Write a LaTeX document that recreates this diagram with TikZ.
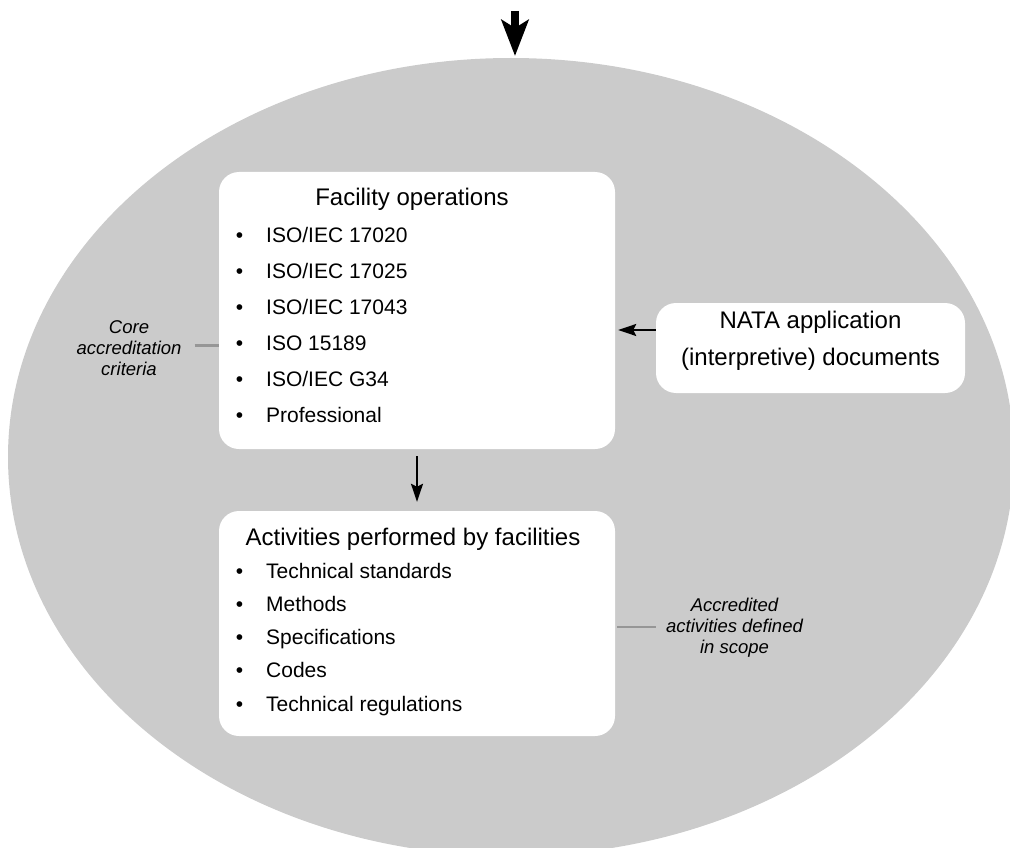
\documentclass[tikz,border=0pt]{standalone}
\usepackage{fontspec}
\setmainfont{Liberation Sans}
\usetikzlibrary{arrows.meta,positioning}

\definecolor{ovalgray}{RGB}{203,203,203}
\definecolor{leadgray}{RGB}{150,150,150}
\newcommand{\bul}{\llap{\textbullet\hspace{23pt}}}

\tikzset{
  box/.style={fill=white, rounded corners=20pt, inner sep=0pt},
  head/.style={font=\fontsize{24}{37}\selectfont, inner sep=0pt},
  item/.style={font=\fontsize{21}{25}\selectfont, anchor=base west, inner sep=0pt},
  note/.style={font=\fontsize{18.5}{21}\selectfont\itshape, align=center, inner sep=0pt},
  flow/.style={-{Stealth[length=18pt,width=12pt,inset=3pt]}, line width=2pt},
  bigflow/.style={-{Stealth[length=36pt,width=27pt,inset=8pt]}, line width=8pt},
  lead/.style={draw=leadgray, line width=2.5pt}
}

\begin{document}
\begin{tikzpicture}[x=1pt,y=-1pt]
    \useasboundingbox (0,0) rectangle (1010,848);
    \fill[ovalgray] (511,457) ellipse [x radius=503, y radius=399];

    % boxes
    \node[box, minimum width=396pt, minimum height=277pt] (ops) at (417,310.5) {};
    \node[box, minimum width=396pt, minimum height=225pt] (acts) at (417,623.5) {};
    \node[box, minimum width=309pt, minimum height=90pt] (nata) at (810.5,348) {};

    % texts
    \node[head, anchor=base] (opstitle) at (412,206) {Facility operations};
    \foreach \t [count=\i] in {ISO/IEC 17020,ISO/IEC 17025,ISO/IEC 17043,ISO 15189,ISO/IEC G34,Professional}
        \node[item] (ops\i) at (266,{206+36*\i}) {\bul\t};
    \node[head, anchor=base] (actstitle) at (413,545) {Activities performed by facilities};
    \foreach \t [count=\i] in {Technical standards,Methods,Specifications,Codes,Technical regulations}
        \node[item] (acts\i) at (266,{544.75+33.25*\i}) {\bul\t};
    \node[head, align=center] (natatext) at ([yshift=7]nata.center) {NATA application\\(interpretive) documents};

    \node[note, anchor=base] (core) at (129,375) {Core\\accreditation\\criteria};
    \node[note, anchor=base] (scope) at (734.5,653) {Accredited\\activities defined\\in scope};

    % connectors
    \coordinate (src) at (515,11);
    \coordinate (rim) at (515,56);
    \draw[bigflow] (src) -- (rim);
    \draw[flow] ([yshift=-7pt]ops.south) -- ([yshift=9pt]acts.north);
    \draw[flow] ([yshift=18pt]nata.west) -- ([xshift=3pt,yshift=18pt]nata.west -| ops.east);
    \draw[lead] ([xshift=13pt,yshift=2pt]core.east) -- ([yshift=2pt]core.east -| ops.west);
    \draw[lead] ([xshift=2pt]acts.east |- scope) -- ([xshift=-10pt]scope.west);
\end{tikzpicture}
\end{document}
